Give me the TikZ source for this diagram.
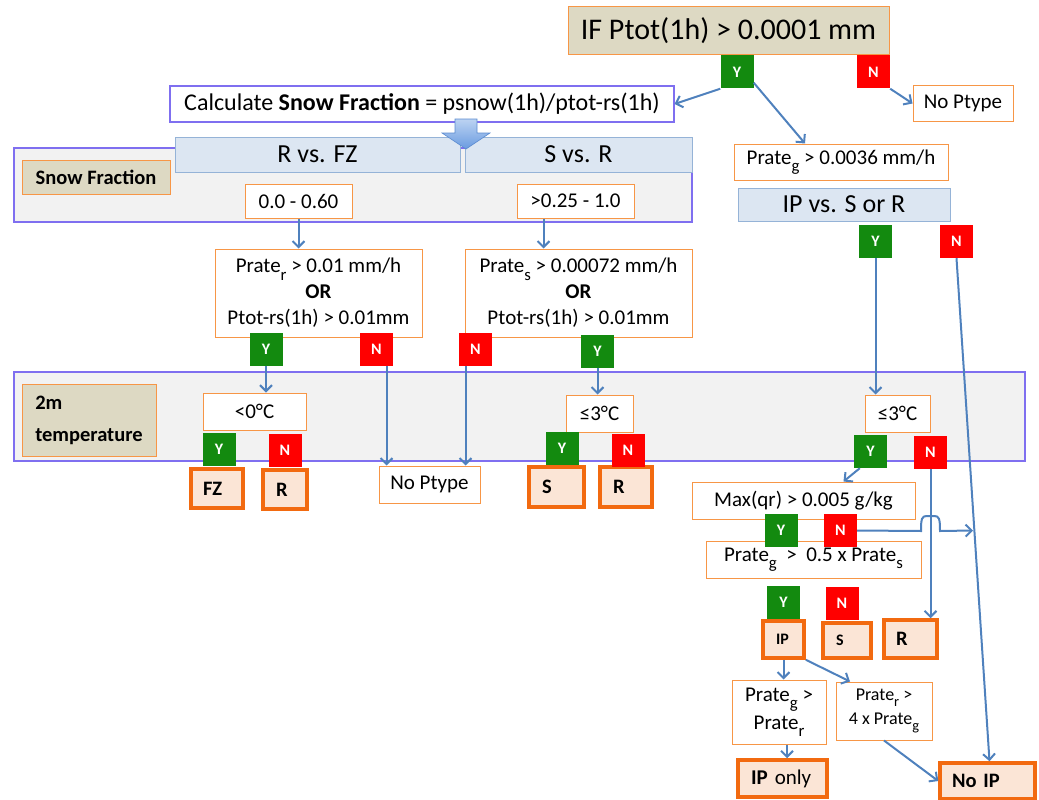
\documentclass[tikz,border=0pt]{standalone}
\usepackage{fontspec}
\setmainfont{Carlito}
\usetikzlibrary{arrows.meta,calc}
\definecolor{tanF}{HTML}{DDD9C3}
\definecolor{orgB}{HTML}{F79646}
\definecolor{orgT}{HTML}{F26A10}
\definecolor{peach}{HTML}{FBE5D6}
\definecolor{violet}{HTML}{7F6FF0}
\definecolor{panelF}{HTML}{F2F2F2}
\definecolor{hdrF}{HTML}{DCE6F2}
\definecolor{hdrB}{HTML}{95B3D7}
\definecolor{arrC}{HTML}{4F81BD}
\definecolor{yesG}{HTML}{138A0F}
\definecolor{noR}{HTML}{FF0000}
\definecolor{blkT}{HTML}{BCD3F2}
\definecolor{blkB}{HTML}{6A9BE0}
\definecolor{blkD}{HTML}{5B8BD0}
\newcommand\fsz[2]{\fontsize{#1}{#2}\selectfont}
\newcommand\sbs[1]{\raisebox{-0.35em}{\scalebox{0.8}{#1}}}
\begin{document}
\begin{tikzpicture}[x=1pt,y=-1pt,
  box/.style={draw=orgB, line width=1pt, fill=white, inner sep=0pt, align=center, font=\fsz{21}{26}},
  res/.style={draw=orgT, line width=3.5pt, fill=peach, inner ysep=0pt, align=left, font=\bfseries\fsz{20.5}{24}},
  yes/.style={fill=yesG, text=white, font=\bfseries\fsz{16}{18}, minimum width=33, minimum height=33, inner sep=0pt},
  no/.style={fill=noR, text=white, font=\bfseries\fsz{16}{18}, minimum width=33, minimum height=33, inner sep=0pt},
  panel/.style={draw=violet, line width=1.3pt, fill=panelF},
  hdr/.style={draw=hdrB, line width=1pt, fill=hdrF, inner sep=0pt, font=\fsz{26}{30}},
  lbl/.style={draw=orgB, line width=1pt, fill=tanF, inner sep=0pt, font=\bfseries\fsz{20.5}{32}},
  arr/.style={draw=arrC, line width=2pt, -{Straight Barb[length=6pt,width=12pt]}}
]
\useasboundingbox (0,0) rectangle (1039,800);

% ---------- top ----------
\node[lbl, font=\fsz{30}{34}, minimum width=321, minimum height=48] (top) at (728.5,31) {IF Ptot(1h) > 0.0001 mm};
\node[box, minimum width=100, minimum height=35] (noptA) at (963,103.5) {No Ptype};
\node[box, draw=violet, line width=1.2pt, font=\fsz{24}{28}, minimum width=504, minimum height=36] (calc) at (422,104) {Calculate \textbf{Snow Fraction} = psnow(1h)/ptot-rs(1h)};

% ---------- snow fraction panel ----------
\node[panel, minimum width=678, minimum height=74, inner sep=0pt] (sfp) at (353,185) {};
\node[hdr, minimum width=285, minimum height=35] (hRFZ) at (317.5,154.5) {R vs. FZ};
\node[hdr, minimum width=227, minimum height=35] (hSR) at (578.5,154.5) {S vs. R};
\shade[top color=blkT, bottom color=blkB, draw=blkD, line width=0.6pt]
  (455,119) -- (477,119) -- (477,133) -- (490,133) -- (466,149) -- (442,133) -- (455,133) -- cycle;
\node[lbl, minimum width=148, minimum height=34] (sfl) at (96,177) {Snow Fraction};
\node[box, minimum width=107, minimum height=34] (r1) at (298.5,201) {0.0 - 0.60};
\node[box, minimum width=117, minimum height=34] (r2) at (575.5,201) {>0.25 - 1.0};

\node[box, minimum width=207, minimum height=88] (prr) at (318.5,293) {Prate\sbs{r} > 0.01 mm/h\\ \textbf{OR}\\ Ptot-rs(1h) > 0.01mm};
\node[box, minimum width=227, minimum height=88] (prs) at (578.5,293) {Prate\sbs{s} > 0.00072 mm/h\\ \textbf{OR}\\ Ptot-rs(1h) > 0.01mm};

% ---------- right column top ----------
\node[box, minimum width=214, minimum height=36] (prg) at (841,162) {Prate\sbs{g} > 0.0036 mm/h};
\node[hdr, minimum width=212, minimum height=33] (ipv) at (844,204.5) {IP vs. S or R};

% ---------- temperature panel ----------
\node[panel, minimum width=1011, minimum height=89, inner sep=0pt] (tp) at (519.5,416.5) {};
\node[lbl, minimum width=134, minimum height=72, align=left] (tl) at (89,420) {2m\\temperature};
\node[box, minimum width=103, minimum height=37] (t1) at (254.5,411.5) {<0°C};
\node[box, minimum width=67, minimum height=37] (t2) at (599.5,413.5) {≤3°C};
\node[box, minimum width=65, minimum height=37] (t3) at (897.5,413.5) {≤3°C};

% ---------- results row ----------
\node[res, minimum height=39, inner xsep=12, text width=28] (FZ) at (217,488.5) {FZ};
\node[res, minimum height=39, inner xsep=13, text width=18] (R1) at (285,489.5) {R};
\node[box, minimum width=101, minimum height=37] (noptB) at (429.5,484.5) {No Ptype};
\node[res, minimum height=40, inner xsep=13, text width=29] (S1) at (556.5,487) {S};
\node[res, minimum height=40, inner xsep=13, text width=26] (R2) at (626,487) {R};

% ---------- lower right ----------
\node[box, minimum width=223, minimum height=37] (mq) at (803.5,500.5) {Max(qr) > 0.005 g/kg};
\node[box, minimum width=215, minimum height=37] (pg2) at (813.5,559.5) {\raisebox{-8pt}{Prate\sbs{g}\ \ >\ \ 0.5 x Prate\sbs{s}}};
\node[res, font=\bfseries\fsz{16}{20}, minimum height=37, inner xsep=13, text width=15] (IP) at (783.5,639.5) {IP};
\node[res, font=\bfseries\fsz{16}{20}, minimum height=35, inner xsep=13, text width=22] (S2) at (847,640.5) {S};
\node[res, minimum height=38, inner xsep=12, text width=29] (R3) at (910.5,639) {R};
\node[box, minimum width=94, minimum height=64, font=\fsz{21}{28}] (c1) at (779,712) {Prate\sbs{g} >\\ Prate\sbs{r}};
\node[box, minimum width=96, minimum height=58, font=\fsz{18}{24}] (c2) at (884,711) {Prate\sbs{r} >\\ 4 x Prate\sbs{g}};
\node[res, font=\fsz{21}{24}, minimum height=37, inner xsep=13, text width=63] (ipo) at (782.5,778.5) {\textbf{IP} only};
\node[res, minimum height=36, inner xsep=12, text width=71] (noip) at (987.5,781) {No IP};

% ---------- Y / N tags ----------
\node[yes] (Y1) at (737,72) {Y};
\node[no]  (N1) at (873.5,72) {N};
\node[yes] (Y2) at (266,349) {Y};
\node[no]  (N2) at (376.5,349) {N};
\node[no]  (N3) at (475.5,349) {N};
\node[yes] (Y3) at (597.5,351) {Y};
\node[yes] (Y4) at (219,449.5) {Y};
\node[no]  (N4) at (285,450.5) {N};
\node[yes] (Y5) at (562,448.5) {Y};
\node[no]  (N5) at (628,450.5) {N};
\node[yes] (Y6) at (875.5,241.5) {Y};
\node[no]  (N6) at (956.5,241.5) {N};
\node[yes] (Y7) at (870.5,451.5) {Y};
\node[no]  (N7) at (930.5,452.5) {N};
\node[yes] (Y8) at (781,530.5) {Y};
\node[no]  (N8) at (840.5,530.5) {N};
\node[yes] (Y9) at (783.5,602) {Y};
\node[no]  (N9) at (842,603) {N};

% ---------- connectors ----------
\draw[arr] (Y1.south west) -- (calc.east);
\draw[arr] ($(Y1.south east)+(0,-6)$) -- ($(prg.north)+(-36,0)$);
\draw[arr] (N1.south east) -- (noptA.west);
\draw[arr] (r1.south) -- (r1.south |- prr.north);
\draw[arr] ($(r2.south)+(-32,0)$) -- ($(r2.south |- prs.north)+(-32,0)$);
\draw[arr] (Y2.south) -- (Y2.south |- t1.north);
\draw[arr] ($(N2.south)+(10,0)$) -- ($(N2.south |- noptB.north)+(10,0)$);
\draw[arr] ($(N3.south)+(-10,0)$) -- ($(N3.south |- noptB.north)+(-10,0)$);
\draw[arr] (Y3.south) -- (Y3.south |- t2.north);
\draw[arr] (Y6.south) -- (Y6.south |- t3.north);
\draw[arr] (N6.south) -- ($(noip.north)+(2,0)$);
\draw[arr] ($(Y7.south west)+(6,0)$) -- ($(mq.north)+(40,0)$);
\draw[arr] (N7.south) -- (N7.south |- R3.north);
\coordinate (hopEnd) at (973,530.5);
\draw[arr] (N8.east) -- (921,531) .. controls (921,518) and (922,516) .. (927,516) -- (934,516) .. controls (939,516) and (940,518) .. (940,531) -- (hopEnd);
\draw[arr] (IP.south) -- (IP.south |- c1.north);
\draw[arr] (IP.south east) -- ($(c2.north)+(-34,0)$);
\draw[arr] ($(c1.south)+(8,0)$) -- ($(c1.south |- ipo.north)+(8,0)$);
\draw[arr] (c2.south) -- (noip.west);
\end{tikzpicture}
\end{document}
